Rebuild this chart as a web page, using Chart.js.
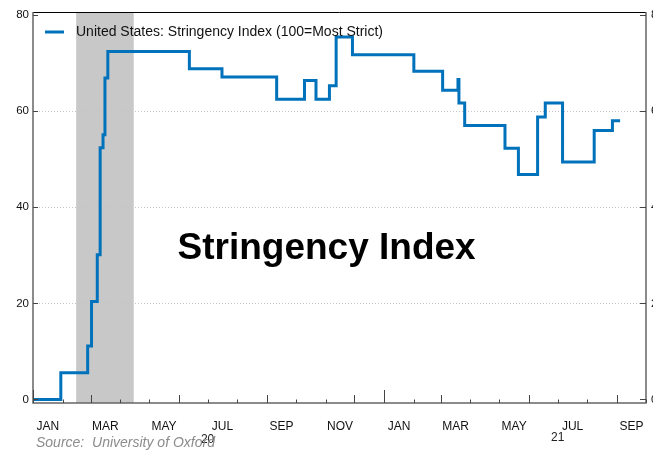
<!DOCTYPE html>
<html>
<head>
<meta charset="utf-8">
<script src="https://cdn.jsdelivr.net/npm/chart.js@4"></script>
<style>
  body { margin: 0; background: #fff; }
  #wrap { width: 653px; height: 450px; }
</style>
</head>
<body>
<div id="wrap"><canvas id="chart" width="653" height="450"></canvas></div>
<script>
// dates where the index changes, and the value from that date on
const changeDates = ['2020-01-01', '2020-01-30', '2020-02-27', '2020-03-02', '2020-03-08', '2020-03-11', '2020-03-14',
  '2020-03-16', '2020-03-19', '2020-06-12', '2020-07-16', '2020-09-11', '2020-10-10', '2020-10-22', '2020-11-05',
  '2020-11-12', '2020-11-29', '2021-02-01', '2021-03-03', '2021-03-19', '2021-03-20', '2021-03-26', '2021-05-07',
  '2021-05-21', '2021-06-10', '2021-06-18', '2021-07-06', '2021-08-08', '2021-08-27', '2021-09-04'];
const changeValues = [0, 5.56, 11.11, 20.37, 30.09, 52.4, 55.09,
  66.9, 72.45, 68.85, 67.13, 62.5, 66.4, 62.5, 65.28,
  75.46, 71.76, 68.29, 64.35, 66.6, 61.7, 57.0, 52.3,
  46.8, 58.8, 61.7, 49.4, 56.0, 58.0, 58.0];
const recession = ['2020-02-15', '2020-04-15'];
const monthNames = ['JAN', 'FEB', 'MAR', 'APR', 'MAY', 'JUN', 'JUL', 'AUG', 'SEP', 'OCT', 'NOV', 'DEC'];
const yTicks = [0, 20, 40, 60, 80];
const seriesLabel = 'United States: Stringency Index (100=Most Strict)';

const day = s => {
  const p = s.split('-').map(Number);
  return (Date.UTC(p[0], p[1] - 1, p[2]) - Date.UTC(2020, 0, 1)) / 864e5;
};
const xMin = 0, xMax = day('2021-10-01');
const font = '"Liberation Sans", Arial, sans-serif';

// month starts for tick marks, mid months for labels
const monthStarts = [];
const monthLabels = [];
for (let y = 2020; y <= 2021; y++) {
  for (let m = 1; m <= 12; m++) {
    const s = `${y}-${String(m).padStart(2, '0')}-01`;
    if (day(s) > xMax) break;
    monthStarts.push({ v: day(s), m: m });
    if (m % 2 === 1 && day(s) < xMax) {
      const next = m === 12 ? `${y + 1}-01-01` : `${y}-${String(m + 1).padStart(2, '0')}-01`;
      monthLabels.push({ value: (day(s) + day(next)) / 2, label: monthNames[m - 1] });
    }
  }
}

const points = changeDates.map((d, i) => ({ x: day(d), y: changeValues[i] }));

const extras = {
  id: 'extras',
  beforeDatasetsDraw(chart) {
    const { ctx, chartArea: a, scales } = chart;
    const x = scales.x, y = scales.y;
    ctx.save();
    // recession shading
    ctx.fillStyle = '#c8c8c8';
    const x0 = x.getPixelForValue(day(recession[0])), x1 = x.getPixelForValue(day(recession[1]));
    ctx.fillRect(x0, a.top, x1 - x0, a.bottom - a.top);
    // dotted grid
    ctx.strokeStyle = '#c4c4c4';
    ctx.lineWidth = 1;
    ctx.setLineDash([1, 2]);
    [20, 40, 60].forEach(v => {
      const py = Math.round(y.getPixelForValue(v)) + 0.5;
      ctx.beginPath(); ctx.moveTo(a.left, py); ctx.lineTo(a.right, py); ctx.stroke();
    });
    ctx.restore();
  },
  afterDatasetsDraw(chart) {
    const { ctx, chartArea: a, scales } = chart;
    const x = scales.x, y = scales.y;
    ctx.save();
    // frame
    ctx.lineWidth = 1;
    ctx.strokeStyle = '#000';
    ctx.beginPath(); ctx.moveTo(a.left, a.top + 0.5); ctx.lineTo(a.right, a.top + 0.5); ctx.stroke();
    ctx.strokeStyle = '#666';
    ctx.lineWidth = 1.5;
    ctx.beginPath();
    ctx.moveTo(a.left, a.top); ctx.lineTo(a.left, a.bottom);
    ctx.lineTo(a.right, a.bottom); ctx.lineTo(a.right, a.top);
    ctx.stroke();
    // y ticks (inward)
    ctx.lineWidth = 1;
    ctx.strokeStyle = '#444';
    yTicks.forEach(v => {
      const py = Math.round(y.getPixelForValue(v)) + 0.5;
      ctx.beginPath();
      ctx.moveTo(a.left, py); ctx.lineTo(a.left + 5, py);
      ctx.moveTo(a.right, py); ctx.lineTo(a.right - 6, py);
      ctx.stroke();
    });
    // x ticks (inward, longer at quarters and years)
    monthStarts.forEach(t => {
      const px = Math.round(x.getPixelForValue(t.v)) + 0.5;
      const len = t.m === 1 ? 13 : (t.m % 3 === 0 ? 8 : 3.5);
      ctx.beginPath(); ctx.moveTo(px, a.bottom); ctx.lineTo(px, a.bottom - len); ctx.stroke();
    });
    // legend
    const ds = chart.data.datasets[0];
    ctx.strokeStyle = ds.borderColor;
    ctx.lineWidth = 3;
    ctx.beginPath(); ctx.moveTo(a.left + 12, a.top + 20); ctx.lineTo(a.left + 31, a.top + 20); ctx.stroke();
    ctx.fillStyle = '#111';
    ctx.font = '14px ' + font;
    ctx.textBaseline = 'middle';
    ctx.fillText(ds.label, a.left + 43, a.top + 20);
    // title in the plot
    ctx.font = 'bold 37px ' + font;
    ctx.textBaseline = 'alphabetic';
    ctx.fillStyle = '#000';
    ctx.fillText('Stringency Index', 177.5, 259);
    // year labels
    ctx.font = '12px ' + font;
    ctx.textAlign = 'center';
    ctx.textBaseline = 'middle';
    ctx.fillStyle = '#222';
    ctx.fillText('20', x.getPixelForValue(day('2020-07-01')), 440);
    ctx.fillText('21', x.getPixelForValue(day('2021-07-01')), 438);
    // source
    ctx.textAlign = 'left';
    ctx.font = 'italic 14px ' + font;
    ctx.fillStyle = '#8c8c8c';
    ctx.fillText('Source:  University of Oxford', 36, 443);
    ctx.restore();
  }
};

new Chart(document.getElementById('chart'), {
  type: 'line',
  data: {
    datasets: [{
      label: seriesLabel,
      data: points,
      borderColor: '#0072bc',
      borderWidth: 3,
      stepped: true,
      pointRadius: 0,
      fill: false
    }]
  },
  options: {
    responsive: false,
    animation: false,
    devicePixelRatio: 1,
    layout: { padding: { top: 12, left: 0, right: 0, bottom: 0 } },
    plugins: { legend: { display: false }, tooltip: { enabled: false } },
    scales: {
      x: {
        type: 'linear',
        min: xMin,
        max: xMax,
        afterBuildTicks: s => { s.ticks = monthLabels.map(t => ({ value: t.value })); },
        afterFit: s => { s.height = 47; s.paddingLeft = 0; s.paddingRight = 0; },
        grid: { display: false, drawTicks: false },
        border: { display: false },
        ticks: {
          autoSkip: false,
          maxRotation: 0,
          padding: 16,
          color: '#111',
          font: { family: font, size: 12 },
          callback: (v, i) => monthLabels[i] ? monthLabels[i].label : ''
        }
      },
      y: {
        min: -0.75,
        max: 80.65,
        afterBuildTicks: s => { s.ticks = yTicks.map(v => ({ value: v })); },
        afterFit: s => { s.width = 33; s.paddingTop = 0; s.paddingBottom = 0; },
        grid: { display: false, drawTicks: false },
        border: { display: false },
        ticks: {
          padding: 4,
          color: '#111',
          font: { family: font, size: 11.5 }
        }
      },
      y2: {
        position: 'right',
        min: -0.75,
        max: 80.65,
        afterBuildTicks: s => { s.ticks = yTicks.map(v => ({ value: v })); },
        afterFit: s => { s.width = 7; s.paddingTop = 0; s.paddingBottom = 0; },
        grid: { display: false, drawTicks: false },
        border: { display: false },
        ticks: {
          padding: 5,
          color: '#111',
          font: { family: font, size: 11.5 }
        }
      }
    }
  },
  plugins: [extras]
});
</script>
</body>
</html>
